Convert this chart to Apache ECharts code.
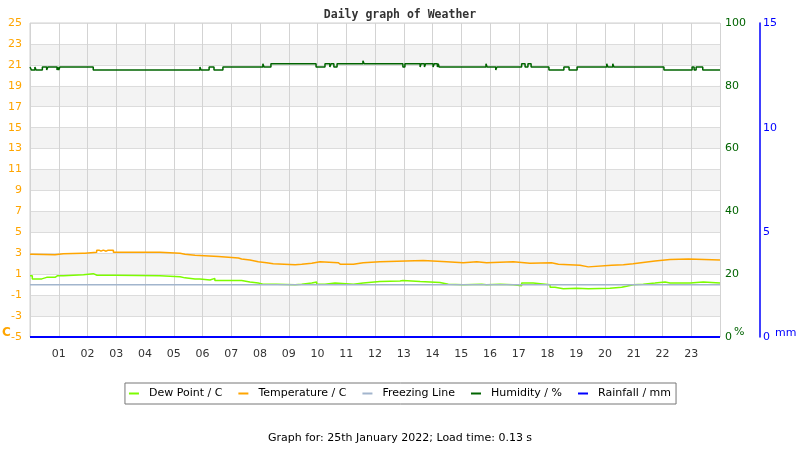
<!DOCTYPE html>
<html>
<head>
<meta charset="utf-8">
<script src="https://cdn.jsdelivr.net/npm/echarts@6/dist/echarts.min.js"></script>
<style>
html,body{margin:0;padding:0;background:#fff;}
#chart{width:800px;height:450px;}
</style>
</head>
<body>
<div id="chart"></div>
<script>
// Hour tick labels
var hourLabels = ['01','02','03','04','05','06','07','08','09','10','11','12','13','14','15','16','17','18','19','20','21','22','23'];
var tempTicks = [-5,-3,-1,1,3,5,7,9,11,13,15,17,19,21,23,25];
var humTicks = [0,20,40,60,80,100];
var rainTicks = [0,5,10,15];

// [hour, value] change points (value holds until next point)
var dewPoint = [[0,0.85],[0.08,0.55],[0.18,0.7],[0.21,0.55],[0.41,0.7],[0.58,0.55],[0.61,0.7],[0.87,0.85],[0.95,0.7],[0.99,0.85],[1.16,0.95],[1.86,1.05],[2.2,0.9],[2.33,0.85],[2.38,0.9],[2.55,0.85],[2.6,0.9],[2.7,0.85],[2.75,0.9],[2.96,0.85],[4.52,0.75],[5.22,0.65],[5.39,0.55],[5.74,0.6],[5.8,0.55],[5.91,0.45],[6.26,0.6],[6.43,0.4],[6.72,0.4],[7.36,0.25],[7.65,0.15],[7.94,0.05],[8.1,0.2],[8.13,0.05],[8.58,0],[9.22,0.05],[9.45,0.15],[9.8,0.25],[9.97,0.05],[10.26,0.15],[10.61,0.05],[11.25,0.15],[11.59,0.3],[12.17,0.35],[12.87,0.4],[12.97,0.3],[13.57,0.2],[14.26,0.05],[14.55,0],[15.07,0.05],[15.71,0],[15.88,0.05],[16.35,0],[16.81,-0.1],[17.1,0.15],[17.5,0],[18.09,-0.25],[18.26,-0.4],[18.55,-0.35],[19.01,-0.4],[19.42,-0.35],[20.17,-0.25],[20.58,-0.15],[20.75,0],[20.98,0.05],[21.33,0.15],[21.74,0.25],[22.09,0.15],[22.26,0.15],[22.96,0.25],[23.42,0.15],[24,0.15]];

var temperature = [[0,2.9],[0.08,2.85],[0.87,2.95],[1.16,3.0],[1.83,3.1],[1.87,3.0],[1.91,3.1],[2.32,3.3],[2.4,3.2],[2.47,3.3],[2.55,3.2],[2.65,3.3],[2.72,3.2],[2.78,3.3],[2.9,3.1],[3.93,3.2],[3.97,3.1],[4.1,3.2],[4.13,3.1],[4.52,3.0],[5.22,2.9],[5.39,2.8],[5.74,2.7],[6.55,2.55],[7.25,2.45],[7.36,2.35],[7.65,2.2],[7.94,2.1],[8.23,2.0],[8.46,1.9],[9.22,1.95],[9.45,2.05],[9.8,2.2],[10.09,2.1],[10.72,1.95],[10.8,1.9],[10.85,1.95],[10.9,1.9],[10.95,1.95],[11.25,2.1],[11.59,2.2],[12.17,2.3],[13.68,2.2],[14.49,2.1],[15.07,2.2],[15.54,2.1],[15.88,2.2],[16.81,2.05],[17.39,2.15],[17.45,2.1],[18.14,1.95],[18.38,1.85],[19.13,1.7],[19.42,1.85],[20.23,1.9],[20.64,2.0],[20.98,2.15],[21.39,2.25],[21.74,2.4],[22.26,2.45],[22.9,2.35],[24,2.35]];

var freezing = [[0,0],[24,0]];

var humidity = [[0,86],[0.05,85],[0.17,86],[0.21,85],[0.43,86],[0.58,85],[0.62,86],[0.94,85],[0.97,86],[1.0,85],[1.04,86],[2.2,85],[5.91,86],[5.95,85],[6.23,86],[6.4,85],[6.71,86],[8.1,87],[8.14,86],[8.38,87],[9.95,86],[10.26,87],[10.43,86],[10.47,87],[10.57,86],[10.68,87],[11.58,88],[11.62,87],[12.97,86],[13.04,87],[13.57,86],[13.6,87],[13.72,86],[13.76,87],[14.02,86],[14.06,87],[14.17,86],[14.2,87],[14.23,86],[15.86,87],[15.9,86],[16.2,85],[16.24,86],[17.1,87],[17.22,86],[17.32,87],[17.43,86],[18.05,85],[18.57,86],[18.75,85],[19.03,86],[20.06,87],[20.1,86],[20.27,87],[20.31,86],[22.05,85],[23.03,86],[23.1,85],[23.17,86],[23.4,85],[24,85]];

var rainfall = [[0,0],[24,0]];

var chart = echarts.init(document.getElementById('chart'), null, {renderer:'canvas'});
var font = 'DejaVu Sans';
function lineSeries(name, data, color, yIdx, width, z) {
  return {
    name: name, type: 'line', data: data, yAxisIndex: yIdx, step: 'end',
    symbol: 'none', showSymbol: false, animation: false, z: z,
    lineStyle: {color: color, width: width}, itemStyle: {color: color}
  };
}
var option = {
  animation: false,
  backgroundColor: '#ffffff',
  title: [
    {text: 'Daily graph of Weather', left: 'center', top: 4,
     textStyle: {fontFamily: 'DejaVu Sans Mono', fontWeight: 'bold', fontSize: 11.5, color: '#333'}},
    {text: 'Graph for: 25th January 2022; Load time: 0.13 s', left: 'center', top: 428,
     textStyle: {fontFamily: font, fontWeight: 'normal', fontSize: 11, color: '#000'}}
  ],
  grid: {left: 30, right: 80, top: 23, bottom: 113, show: true, borderColor: '#d0d0d0', borderWidth: 1, backgroundColor: 'transparent'},
  legend: {
    left: 'center', top: 383, orient: 'horizontal',
    padding: [5, 5, 5, 4], itemGap: 16, itemWidth: 10, itemHeight: 2, icon: 'rect',
    borderColor: '#777', borderWidth: 1, backgroundColor: '#fff',
    textStyle: {fontFamily: font, fontSize: 11, color: '#000', padding: [0, 0, 0, 5]},
    data: ['Dew Point / C', 'Temperature / C', 'Freezing Line', 'Humidity / %', 'Rainfall / mm']
  },
  xAxis: {
    type: 'value', min: 0, max: 24, interval: 1,
    axisLine: {show: false}, axisTick: {show: false},
    axisLabel: {fontFamily: font, fontSize: 11, color: '#333', margin: 12,
      formatter: function (v) { return (v >= 1 && v <= 23) ? hourLabels[v - 1] : ''; }},
    splitLine: {show: true, lineStyle: {color: '#d3d3d3', width: 1}}
  },
  yAxis: [
    {type: 'value', position: 'left', min: tempTicks[0], max: tempTicks[tempTicks.length - 1], interval: 2,
     axisLine: {show: false}, axisTick: {show: false},
     axisLabel: {fontFamily: font, fontSize: 11, color: '#ffa500', margin: 8,
       formatter: function (v) { return tempTicks.indexOf(v) >= 0 ? String(v) : ''; }},
     splitLine: {show: true, lineStyle: {color: '#dcdcdc', width: 1}},
     splitArea: {show: true, areaStyle: {color: ['#ffffff', '#f3f3f3']}}},
    {type: 'value', position: 'right', min: humTicks[0], max: humTicks[humTicks.length - 1], interval: 20,
     axisLine: {show: false}, axisTick: {show: false}, splitLine: {show: false},
     axisLabel: {fontFamily: font, fontSize: 11, color: '#006400', margin: 5}},
    {type: 'value', position: 'right', offset: 40, min: rainTicks[0], max: rainTicks[rainTicks.length - 1], interval: 5,
     axisLine: {show: true, lineStyle: {color: '#0000ff', width: 1.5}}, axisTick: {show: false}, splitLine: {show: false},
     axisLabel: {fontFamily: font, fontSize: 11, color: '#0000ff', margin: 3}}
  ],
  graphic: [
    {type: 'text', left: 2, top: 327, style: {text: 'C', fill: '#ffa500', font: 'bold 12px DejaVu Sans'}},
    {type: 'text', left: 734, top: 327, style: {text: '%', fill: '#006400', font: '11px DejaVu Sans'}},
    {type: 'text', left: 775, top: 328, style: {text: 'mm', fill: '#0000ff', font: '11px DejaVu Sans'}}
  ],
  series: [
    lineSeries('Dew Point / C', dewPoint, '#7cfc00', 0, 1.5, 2),
    lineSeries('Temperature / C', temperature, '#ffa500', 0, 1.5, 3),
    lineSeries('Freezing Line', freezing, '#a2b5cd', 0, 1.5, 4),
    lineSeries('Humidity / %', humidity, '#006400', 1, 1.5, 5),
    lineSeries('Rainfall / mm', rainfall, '#0000ff', 2, 2, 6)
  ]
};
chart.setOption(option);
</script>
</body>
</html>
